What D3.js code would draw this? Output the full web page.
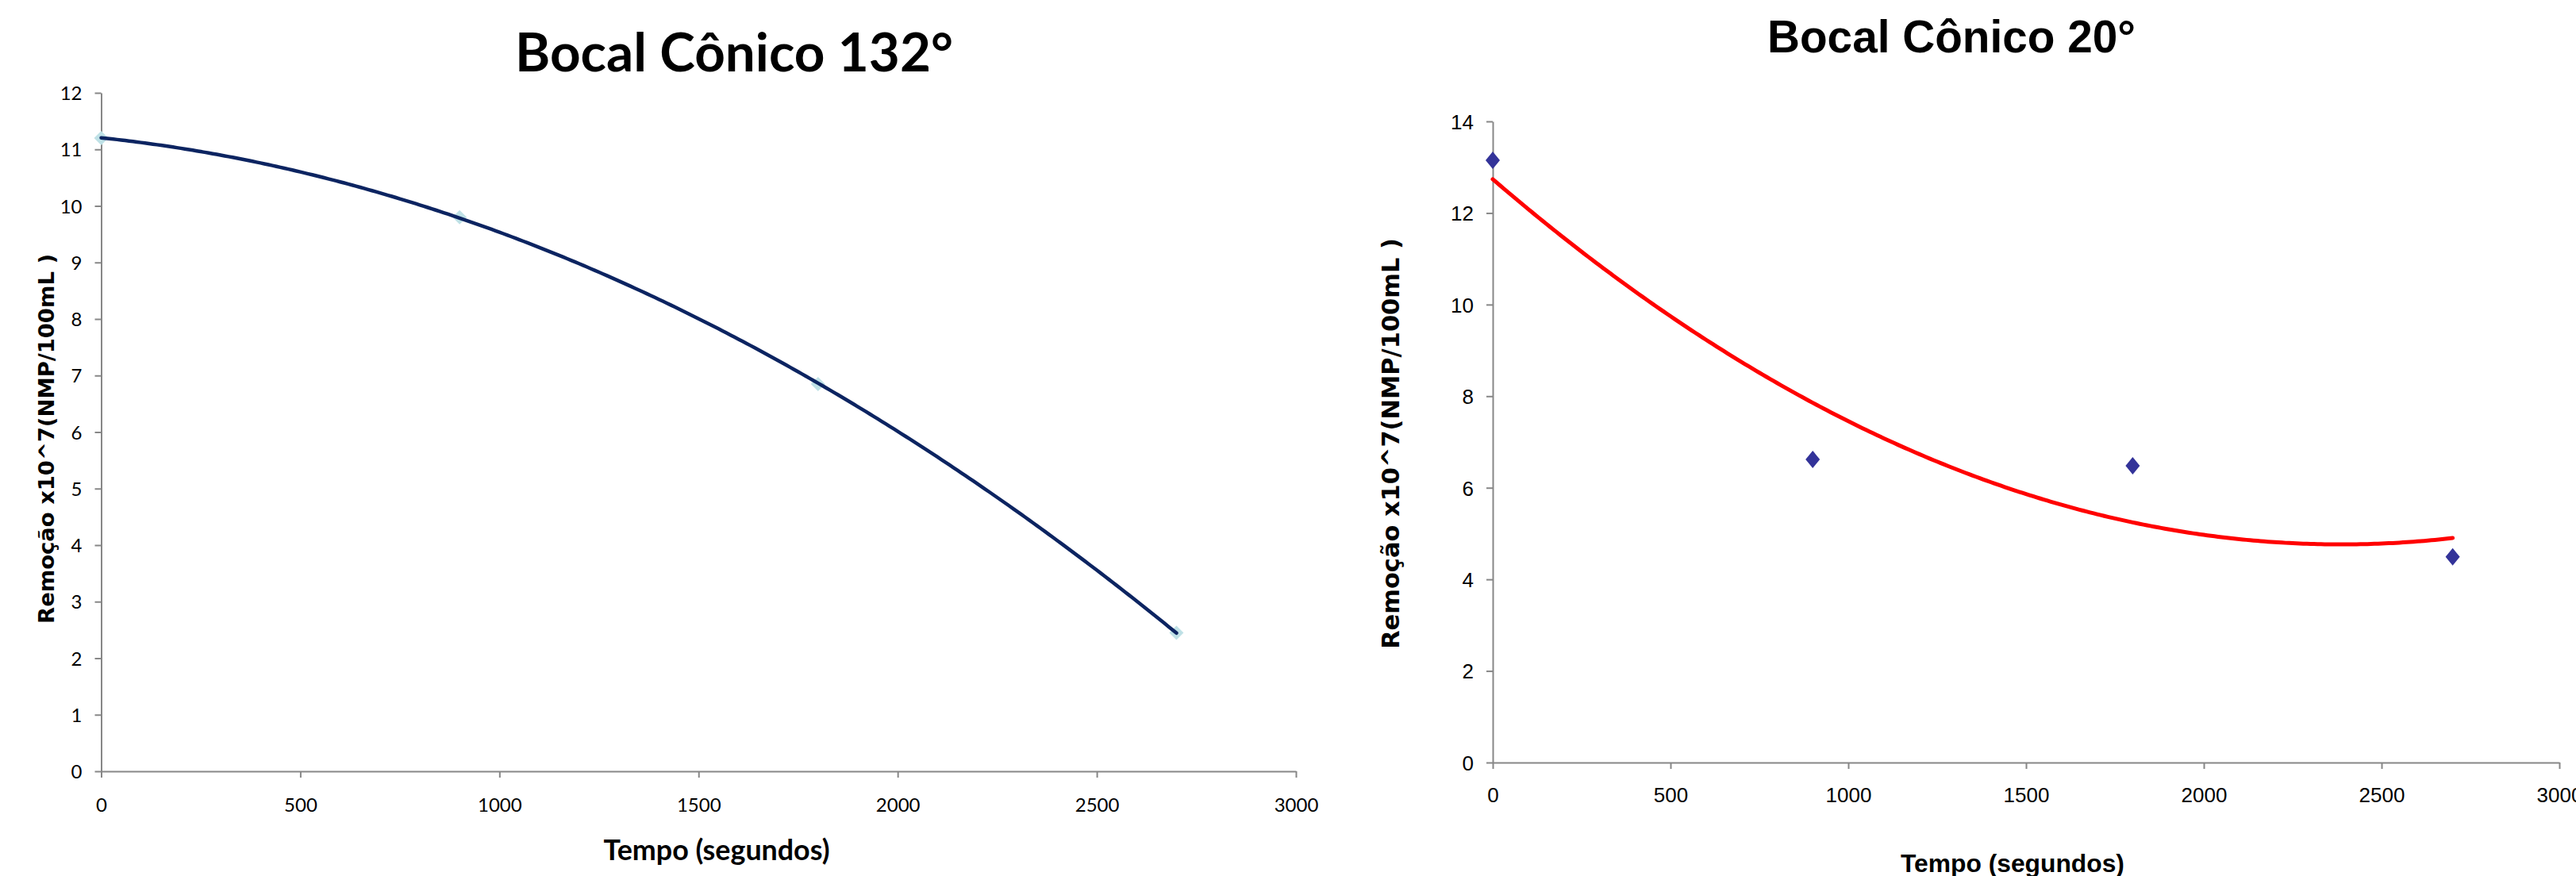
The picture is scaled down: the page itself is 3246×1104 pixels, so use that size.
<!DOCTYPE html>
<html>
<head>
<meta charset="utf-8">
<script src="https://cdn.jsdelivr.net/npm/d3@7"></script>
<style>
  html, body { margin: 0; padding: 0; background: #ffffff; }
  svg { display: block; }
</style>
</head>
<body>
<svg id="chart" width="3246" height="1104"></svg>
<script>
// ---------------- DATA ----------------
const timeSeconds = [0, 900, 1800, 2700];
const removal132 = [11.2, 9.8, 6.85, 2.45];
const removal20 = [13.15, 6.62, 6.48, 4.49];
const xTickValues = [0, 500, 1000, 1500, 2000, 2500, 3000];
const yTicks132 = [0, 1, 2, 3, 4, 5, 6, 7, 8, 9, 10, 11, 12];
const yTicks20 = [0, 2, 4, 6, 8, 10, 12, 14];
const title132 = "Bocal Cônico 132°";
const title20 = "Bocal Cônico 20°";
const xTitle = "Tempo (segundos)";
const yTitle = "Remoção x10^7(NMP/100mL )";

// ---------------- HELPERS ----------------
// Excel-style 2nd order polynomial trendline (least squares) from the data
function polyFit2(xs, ys) {
  let S = [0,0,0,0,0], T = [0,0,0];
  xs.forEach((x, i) => {
    for (let k = 0; k < 5; k++) S[k] += Math.pow(x, k);
    for (let k = 0; k < 3; k++) T[k] += Math.pow(x, k) * ys[i];
  });
  const A = [[S[0],S[1],S[2],T[0]],[S[1],S[2],S[3],T[1]],[S[2],S[3],S[4],T[2]]];
  for (let c = 0; c < 3; c++) {
    for (let r = c + 1; r < 3; r++) {
      const f = A[r][c] / A[c][c];
      for (let k = c; k < 4; k++) A[r][k] -= f * A[c][k];
    }
  }
  const s = [0,0,0];
  for (let r = 2; r >= 0; r--) {
    let v = A[r][3];
    for (let k = r + 1; k < 3; k++) v -= A[r][k] * s[k];
    s[r] = v / A[r][r];
  }
  return x => s[0] + s[1] * x + s[2] * x * x;
}

function fitText(sel, targetWidth) {
  const node = sel.node();
  const fs = parseFloat(sel.attr("font-size"));
  const w = node.getComputedTextLength();
  sel.attr("font-size", (fs * targetWidth / w).toFixed(2));
}

const svg = d3.select("#chart");

function drawChart(cfg) {
  const g = svg.append("g");
  const x = d3.scaleLinear().domain([0, 3000]).range([cfg.x0, cfg.x1]);
  const y = d3.scaleLinear().domain([0, cfg.yMax]).range([cfg.y0, cfg.y1]);
  const fmt = d3.format("d");

  // Y axis
  const ya = g.append("g").attr("transform", `translate(${cfg.x0},0)`)
    .call(d3.axisLeft(y).tickValues(cfg.yTicks).tickFormat(fmt).tickSize(cfg.tick).tickPadding(cfg.yPad).tickSizeOuter(0));
  // X axis
  const xa = g.append("g").attr("transform", `translate(0,${cfg.y0})`)
    .call(d3.axisBottom(x).tickValues(xTickValues).tickFormat(fmt).tickSize(cfg.tick).tickSizeOuter(0));
  [ya, xa].forEach(a => {
    a.select(".domain").attr("stroke", "#878787").attr("stroke-width", 2);
    a.selectAll(".tick line").attr("stroke", "#878787").attr("stroke-width", 2);
    a.selectAll("text").attr("font-family", cfg.tickFont).attr("font-size", cfg.tickSize).attr("fill", "#000");
  });
  ya.selectAll("text").attr("dy", "0.36em");
  xa.selectAll("text").attr("dy", 0).attr("y", cfg.xLabelOffset);

  // Trendline
  const f = polyFit2(timeSeconds, cfg.values);
  const xs = d3.range(0, 2700 + 1, 10);
  const line = d3.line().x(d => x(d)).y(d => y(f(d)));

  const markers = () => g.append("g").selectAll("path").data(timeSeconds).join("path")
    .attr("transform", (d, i) => `translate(${x(d)},${y(cfg.values[i])})`)
    .attr("d", `M0,${-cfg.mh/2} L${cfg.mw/2},0 L0,${cfg.mh/2} L${-cfg.mw/2},0 Z`)
    .attr("fill", cfg.markerColor);

  if (cfg.markersBelow) markers();
  g.append("path").datum(xs).attr("d", line).attr("fill", "none")
    .attr("stroke", cfg.lineColor).attr("stroke-width", cfg.lineWidth).attr("stroke-linecap", "round");
  if (!cfg.markersBelow) markers();

  // Title
  const t = g.append("text").text(cfg.title).attr("x", cfg.titleX).attr("y", cfg.titleY)
    .attr("text-anchor", "middle").attr("font-family", cfg.titleFont).attr("font-weight", "bold")
    .attr("font-size", 60).attr("fill", "#000");
  fitText(t, cfg.titleW);

  // X title
  const xt = g.append("text").text(xTitle).attr("x", cfg.xtX).attr("y", cfg.xtY)
    .attr("text-anchor", "middle").attr("font-family", cfg.xtFont).attr("font-weight", "bold")
    .attr("font-size", 28).attr("fill", "#000");
  fitText(xt, cfg.xtW);

  // Y title
  const yt = g.append("text").text(yTitle)
    .attr("transform", `translate(${cfg.ytX},${cfg.ytY}) rotate(-90)`)
    .attr("text-anchor", "middle").attr("dy", "0.36em")
    .attr("font-family", "DejaVu Sans").attr("font-weight", "bold")
    .attr("font-size", 26).attr("fill", "#000");
  fitText(yt, cfg.ytW);
}

drawChart({
  values: removal132, yMax: 12, yTicks: yTicks132,
  x0: 127.5, x1: 1633, y0: 972, y1: 117,
  tick: 8, yPad: 16, xLabelOffset: 51,
  tickFont: "Lato", tickSize: 24,
  lineColor: "#0c2461", lineWidth: 4.5,
  markerColor: "#bfe1e6", mw: 18, mh: 18, markersBelow: true,
  title: title132, titleX: 925, titleY: 90, titleW: 552, titleFont: "Lato",
  xtX: 903, xtY: 1084, xtW: 285, xtFont: "Lato",
  ytX: 58, ytY: 553, ytW: 466
});

drawChart({
  values: removal20, yMax: 14, yTicks: yTicks20,
  x0: 1881, x1: 3225, y0: 961, y1: 153,
  tick: 8, yPad: 16, xLabelOffset: 50,
  tickFont: "Liberation Sans", tickSize: 26,
  lineColor: "#ff0000", lineWidth: 5,
  markerColor: "#333399", mw: 18, mh: 22, markersBelow: false,
  title: title20, titleX: 2459, titleY: 66, titleW: 464, titleFont: "Liberation Sans",
  xtX: 2536, xtY: 1099, xtW: 282, xtFont: "Liberation Sans",
  ytX: 1752, ytY: 559, ytW: 518
});
</script>
</body>
</html>
